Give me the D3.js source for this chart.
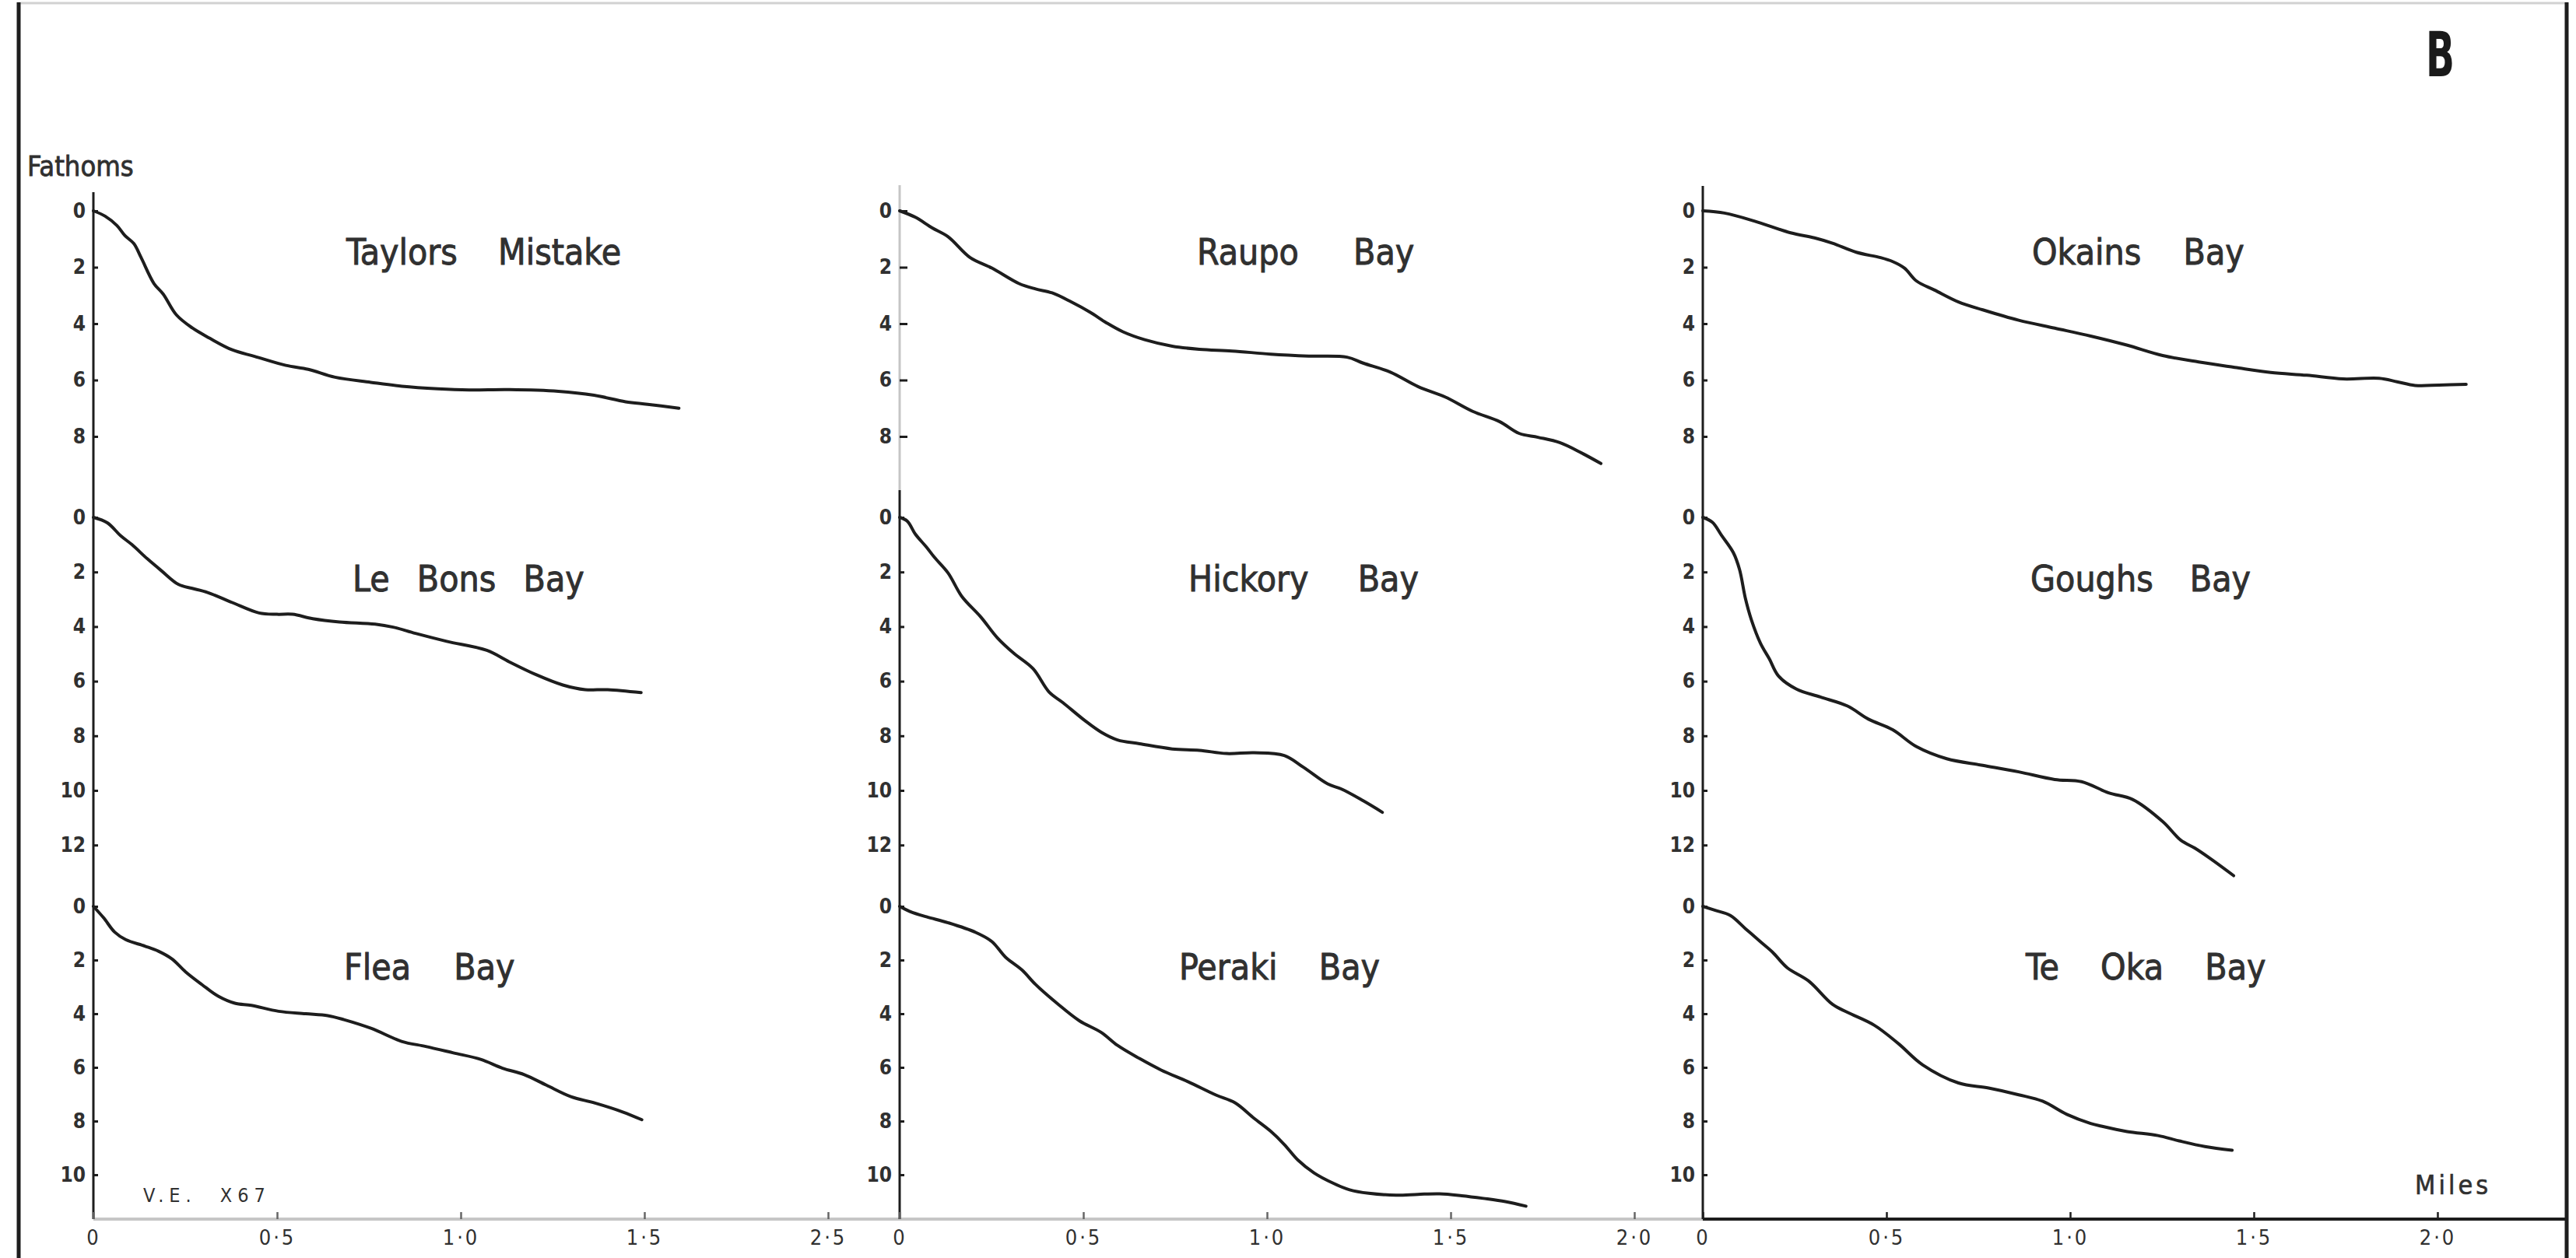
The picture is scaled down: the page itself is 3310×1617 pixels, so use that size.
<!DOCTYPE html>
<html>
<head>
<meta charset="utf-8">
<script src="https://cdn.jsdelivr.net/npm/d3@7"></script>
<style>
  html, body { margin: 0; padding: 0; background: #fff; }
  svg { display: block; }
  text { font-family: "DejaVu Sans Condensed", "DejaVu Sans", sans-serif; }
</style>
</head>
<body>
<svg id="chart" width="3310" height="1617"></svg>
<script>
// Offshore depth profiles of Banks Peninsula bays: [distance offshore (miles), depth (fathoms)]
const bays = ["Taylors Mistake", "Le Bons Bay", "Flea Bay",
              "Raupo Bay", "Hickory Bay", "Peraki Bay",
              "Okains Bay", "Goughs Bay", "Te Oka Bay"];

const taylorsMistake = [[0,0],[0.032,0.19],[0.064,0.52],[0.086,0.88],[0.11,1.16],[0.13,1.66],[0.165,2.58],
  [0.19,2.95],[0.226,3.69],[0.269,4.15],[0.317,4.52],[0.378,4.93],[0.439,5.16],[0.524,5.48],[0.585,5.62],
  [0.658,5.9],[0.755,6.08],[0.84,6.22],[0.938,6.31],[1.023,6.35],[1.132,6.34],[1.266,6.4],[1.363,6.54],
  [1.449,6.77],[1.509,6.86],[1.594,7.0]];

const leBonsBay = [[0,0],[0.038,0.2],[0.074,0.67],[0.105,1.0],[0.147,1.52],[0.184,1.94],[0.232,2.46],
  [0.269,2.6],[0.311,2.75],[0.378,3.12],[0.451,3.5],[0.5,3.55],[0.542,3.55],[0.597,3.71],[0.67,3.83],
  [0.767,3.91],[0.816,4.02],[0.877,4.25],[0.962,4.54],[1.071,4.87],[1.132,5.29],[1.205,5.76],[1.278,6.14],
  [1.339,6.31],[1.4,6.31],[1.491,6.42]];

const fleaBay = [[0,0],[0.028,0.43],[0.058,0.96],[0.088,1.24],[0.14,1.48],[0.177,1.67],[0.214,1.96],
  [0.251,2.44],[0.296,2.92],[0.34,3.35],[0.385,3.61],[0.43,3.69],[0.504,3.91],[0.578,4.0],[0.638,4.07],
  [0.682,4.22],[0.757,4.55],[0.839,5.03],[0.905,5.22],[0.98,5.46],[1.054,5.7],[1.114,6.03],[1.173,6.27],
  [1.233,6.66],[1.3,7.09],[1.366,7.33],[1.441,7.66],[1.493,7.95]];

const raupoBay = [[0,0],[0.043,0.23],[0.088,0.6],[0.132,0.92],[0.192,1.66],[0.251,2.03],[0.325,2.58],
  [0.37,2.77],[0.415,2.91],[0.467,3.23],[0.519,3.6],[0.563,3.97],[0.608,4.29],[0.667,4.57],[0.742,4.8],
  [0.816,4.91],[0.905,4.97],[1.01,5.08],[1.114,5.15],[1.218,5.19],[1.262,5.4],[1.336,5.72],[1.411,6.23],
  [1.485,6.6],[1.56,7.11],[1.634,7.48],[1.686,7.89],[1.738,8.03],[1.797,8.22],[1.857,8.59],[1.909,8.96]];

const hickoryBay = [[0,0],[0.021,0.14],[0.043,0.62],[0.073,1.09],[0.095,1.47],[0.132,2.04],[0.169,2.89],
  [0.221,3.65],[0.266,4.41],[0.311,4.98],[0.363,5.54],[0.407,6.4],[0.444,6.78],[0.504,7.44],[0.549,7.87],
  [0.593,8.15],[0.653,8.29],[0.742,8.48],[0.816,8.53],[0.89,8.65],[0.965,8.62],[1.047,8.72],[1.099,9.15],
  [1.165,9.76],[1.203,9.95],[1.262,10.38],[1.314,10.8]];

const perakiBay = [[0,0],[0.028,0.19],[0.073,0.39],[0.132,0.61],[0.207,0.97],[0.251,1.31],[0.288,1.89],
  [0.333,2.37],[0.37,2.91],[0.43,3.63],[0.489,4.26],[0.549,4.7],[0.593,5.18],[0.653,5.67],[0.712,6.1],
  [0.786,6.54],[0.861,7.03],[0.913,7.32],[0.965,7.9],[1.01,8.38],[1.047,8.87],[1.084,9.45],[1.128,9.93],
  [1.181,10.32],[1.225,10.56],[1.277,10.69],[1.351,10.76],[1.411,10.73],[1.47,10.71],[1.53,10.78],
  [1.589,10.88],[1.649,11.0],[1.705,11.17]];

const okainsBay = [[0,0],[0.059,0.08],[0.14,0.36],[0.239,0.78],[0.304,0.96],[0.353,1.15],[0.418,1.47],
  [0.484,1.66],[0.517,1.8],[0.549,2.03],[0.582,2.49],[0.631,2.81],[0.696,3.23],[0.762,3.51],[0.86,3.88],
  [0.958,4.16],[1.056,4.44],[1.154,4.76],[1.252,5.13],[1.35,5.36],[1.448,5.55],[1.546,5.73],[1.644,5.83],
  [1.743,5.96],[1.841,5.94],[1.89,6.06],[1.939,6.19],[2.004,6.18],[2.078,6.15]];

const goughsBay = [[0,0],[0.026,0.18],[0.051,0.66],[0.083,1.29],[0.1,1.91],[0.116,2.97],[0.132,3.74],
  [0.157,4.61],[0.181,5.18],[0.206,5.81],[0.255,6.29],[0.32,6.58],[0.394,6.91],[0.451,7.39],[0.517,7.78],
  [0.582,8.4],[0.664,8.84],[0.762,9.08],[0.86,9.32],[0.958,9.6],[1.031,9.68],[1.105,10.09],[1.17,10.33],
  [1.252,11.14],[1.301,11.82],[1.339,12.11],[1.381,12.49],[1.445,13.12]];

const teOkaBay = [[0,0],[0.034,0.15],[0.075,0.34],[0.116,0.83],[0.157,1.32],[0.19,1.71],[0.23,2.29],
  [0.288,2.78],[0.353,3.65],[0.394,3.95],[0.467,4.43],[0.533,5.12],[0.598,5.9],[0.696,6.58],[0.778,6.77],
  [0.86,7.02],[0.925,7.26],[0.991,7.75],[1.056,8.09],[1.085,8.19],[1.155,8.39],[1.239,8.54],[1.297,8.74],
  [1.367,8.95],[1.441,9.09]];

// Depth ticks (fathoms) for the top, middle and bottom profile of each column
const depthTicksTop = [0, 2, 4, 6, 8];
const depthTicksMiddle = [0, 2, 4, 6, 8, 10, 12];
const depthTicksBottom = [0, 2, 4, 6, 8, 10];

// Distance ticks (miles) along the shared base of each column
const mileTicks = [0, 0.5, 1, 1.5, 2];
const mileLabelsWest = ["0", "0·5", "1·0", "1·5", "2·5"];
const mileLabelsCentre = ["0", "0·5", "1·0", "1·5", "2·0"];
const mileLabelsEast = ["0", "0·5", "1·0", "1·5", "2·0"];

// ---------------------------------------------------------------------------
const W = 3310, H = 1617;
const svg = d3.select("#chart");
svg.append("rect").attr("width", W).attr("height", H).attr("fill", "#fff");

const INK = "#1d1d1d", TEXT = "#303030", FAINT = "#c6c6c6";
const baseY = 1567;                 // common distance axis
const colX = [120, 1156, 2188];     // depth axis of each column
const milePx = 472;
const rows = [
  { top: 271, unit: 36.25, ticks: depthTicksTop,    titleY: 340 },
  { top: 665, unit: 35.1,  ticks: depthTicksMiddle, titleY: 760 },
  { top: 1165, unit: 34.5, ticks: depthTicksBottom, titleY: 1259 }
];
const profiles = [taylorsMistake, leBonsBay, fleaBay, raupoBay, hickoryBay, perakiBay, okainsBay, goughsBay, teOkaBay];
const titleX = [445, 453, 442, 1538, 1527, 1515, 2611, 2609, 2603];
const wordGap = [39, 22, 42, 57, 50, 40, 41, 34, 40];
const mileLabels = [mileLabelsWest, mileLabelsCentre, mileLabelsEast];

// frame
svg.append("line").attr("x1", 22).attr("x2", 3300).attr("y1", 4).attr("y2", 4)
  .attr("stroke", "#d2d2d2").attr("stroke-width", 3);
svg.append("line").attr("x1", 24).attr("x2", 24).attr("y1", 3).attr("y2", H)
  .attr("stroke", INK).attr("stroke-width", 5);
svg.append("line").attr("x1", 3298).attr("x2", 3298).attr("y1", 3).attr("y2", H)
  .attr("stroke", INK).attr("stroke-width", 5);

// base line: faint under the two western columns, inked under the eastern one
svg.append("line").attr("x1", colX[0]).attr("x2", colX[2]).attr("y1", baseY).attr("y2", baseY)
  .attr("stroke", FAINT).attr("stroke-width", 4);
svg.append("line").attr("x1", colX[2]).attr("x2", 3298).attr("y1", baseY).attr("y2", baseY)
  .attr("stroke", INK).attr("stroke-width", 4);

// column depth axes
const axisTop = [247, 238, 239];
svg.append("line").attr("x1", colX[0]).attr("x2", colX[0]).attr("y1", axisTop[0]).attr("y2", baseY)
  .attr("stroke", INK).attr("stroke-width", 3);
svg.append("line").attr("x1", colX[1]).attr("x2", colX[1]).attr("y1", axisTop[1]).attr("y2", 630)
  .attr("stroke", FAINT).attr("stroke-width", 3);
svg.append("line").attr("x1", colX[1]).attr("x2", colX[1]).attr("y1", 630).attr("y2", baseY)
  .attr("stroke", INK).attr("stroke-width", 3);
svg.append("line").attr("x1", colX[2]).attr("x2", colX[2]).attr("y1", axisTop[2]).attr("y2", baseY)
  .attr("stroke", INK).attr("stroke-width", 3);

// distance axes
colX.forEach((cx, c) => {
  const x = d3.scaleLinear().domain([0, 2]).range([cx, cx + 2 * milePx]);
  const ax = svg.append("g").attr("transform", `translate(0,${baseY})`)
    .call(d3.axisBottom(x).tickValues(mileTicks).tickSize(-9).tickPadding(14)
      .tickFormat((d, i) => mileLabels[c][i]));
  ax.select(".domain").remove();
  ax.selectAll(".tick line").attr("stroke", c === 2 ? INK : "#666").attr("stroke-width", 2.5);
  ax.selectAll(".tick text").attr("fill", TEXT).attr("font-size", 27)
    .attr("letter-spacing", 3).attr("font-family", "DejaVu Sans Condensed");
});

// profiles
profiles.forEach((data, i) => {
  const c = Math.floor(i / 3), r = rows[i % 3];
  const maxD = r.ticks[r.ticks.length - 1];
  const x = d3.scaleLinear().domain([0, 2]).range([colX[c], colX[c] + 2 * milePx]);
  const y = d3.scaleLinear().domain([0, maxD]).range([r.top, r.top + maxD * r.unit]);

  const ay = svg.append("g").attr("transform", `translate(${colX[c]},0)`)
    .call(d3.axisLeft(y).tickValues(r.ticks).tickSize(i === 3 ? -10 : -6).tickPadding(10)
      .tickFormat(d3.format("d")));
  ay.select(".domain").remove();
  ay.selectAll(".tick line").attr("stroke", INK).attr("stroke-width", 3);
  ay.selectAll(".tick text").attr("fill", TEXT).attr("font-size", 26)
    .attr("font-weight", "bold").attr("font-family", "DejaVu Sans Condensed");

  svg.append("path").datum(data)
    .attr("fill", "none").attr("stroke", INK).attr("stroke-width", 4)
    .attr("stroke-linejoin", "round").attr("stroke-linecap", "round")
    .attr("d", d3.line().x(d => x(d[0])).y(d => y(d[1])).curve(d3.curveCatmullRom.alpha(0.5)));

  svg.append("text").attr("x", titleX[i]).attr("y", r.titleY)
    .attr("font-size", 46).attr("fill", TEXT)
    .attr("stroke", TEXT).attr("stroke-width", 0.9)
    .style("word-spacing", wordGap[i] + "px")
    .text(bays[i]);
});

// axis captions and plate letter
svg.append("text").attr("x", 35).attr("y", 226).attr("font-size", 36).attr("fill", TEXT)
  .attr("stroke", TEXT).attr("stroke-width", 0.8).text("Fathoms");
svg.append("text").attr("x", 3103).attr("y", 1535).attr("font-size", 34).attr("fill", TEXT)
  .attr("stroke", TEXT).attr("stroke-width", 0.6).attr("letter-spacing", 4).text("Miles");
svg.append("text").attr("x", 184).attr("y", 1545).attr("font-size", 25).attr("fill", TEXT)
  .attr("letter-spacing", 7).style("word-spacing", "16px").text("V.E. X67");
svg.append("text").attr("x", 3117).attr("y", 98).attr("font-size", 80).attr("font-weight", "bold")
  .attr("fill", "#1a1a1a").attr("textLength", 37).attr("lengthAdjust", "spacingAndGlyphs").text("B");
</script>
</body>
</html>
